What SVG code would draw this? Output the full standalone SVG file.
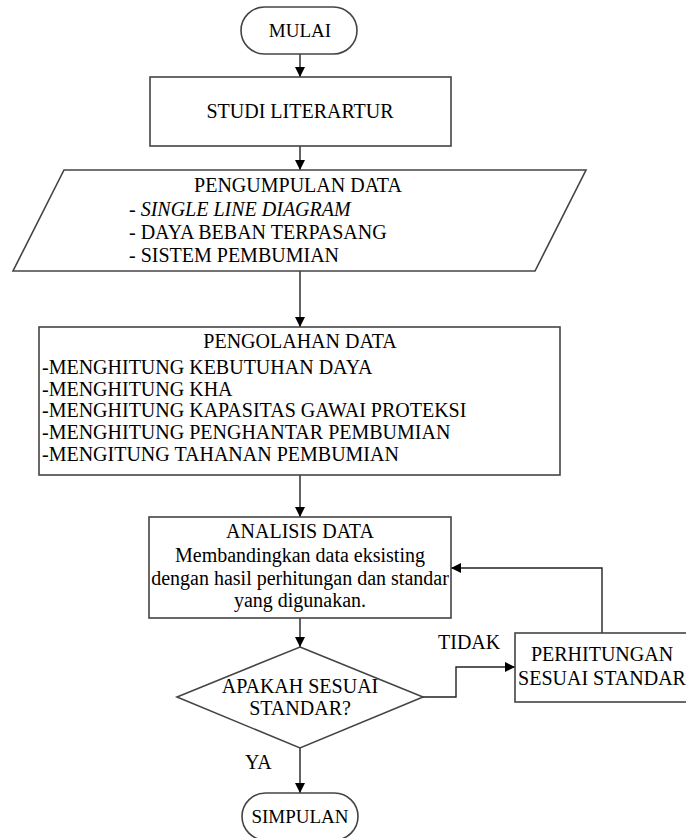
<svg xmlns="http://www.w3.org/2000/svg" width="686" height="838" viewBox="0 0 686 838">
<defs>
<marker id="ah" markerWidth="10" markerHeight="10" refX="10" refY="5" orient="auto" markerUnits="userSpaceOnUse">
<path d="M0,0 L10,5 L0,10 Z" fill="#000"/>
</marker>
</defs>
<style>
.s{fill:#fff;stroke:#444;stroke-width:1.6}
.t{font-family:"Liberation Serif","Times New Roman",serif;font-size:20px;fill:#000}
.m{font-size:19px}
.c{text-anchor:middle}
.e{fill:none;stroke:#222;stroke-width:1.4}
</style>
<rect width="686" height="838" fill="#fff"/>
<g id="connectors">
<path class="e" d="M300,54 V77" marker-end="url(#ah)"/>
<path class="e" d="M300,146 V170" marker-end="url(#ah)"/>
<path class="e" d="M300,271 V327" marker-end="url(#ah)"/>
<path class="e" d="M300,475 V517" marker-end="url(#ah)"/>
<path class="e" d="M300,618 V647" marker-end="url(#ah)"/>
<path class="e" d="M300,748 V793" marker-end="url(#ah)"/>
<path class="e" d="M423,697 H456 V667 H515" marker-end="url(#ah)"/>
<path class="e" d="M602,633 V568 H451" marker-end="url(#ah)"/>
<text class="t" x="438" y="649">TIDAK</text>
<text class="t" x="245" y="769">YA</text>
</g>
<g id="mulai">
<rect class="s" x="241" y="7" width="116" height="47" rx="23.5"/>
<text class="t m c" x="300" y="37">MULAI</text>
</g>
<g id="studi">
<rect class="s" x="150" y="77" width="301" height="69"/>
<text class="t c" x="300" y="118">STUDI LITERARTUR</text>
</g>
<g id="pengumpulan">
<polygon class="s" points="64,170 586,170 535,271 13,271"/>
<text class="t c" x="298" y="192">PENGUMPULAN DATA</text>
<text class="t" x="129" y="216">- <tspan font-style="italic">SINGLE LINE DIAGRAM</tspan></text>
<text class="t" x="129" y="239">- DAYA BEBAN TERPASANG</text>
<text class="t" x="129" y="262">- SISTEM PEMBUMIAN</text>
</g>
<g id="pengolahan">
<rect class="s" x="39" y="327" width="521" height="148"/>
<text class="t c" x="300" y="348">PENGOLAHAN DATA</text>
<text class="t" x="42" y="374">-MENGHITUNG KEBUTUHAN DAYA</text>
<text class="t" x="42" y="396">-MENGHITUNG KHA</text>
<text class="t" x="42" y="417">-MENGHITUNG KAPASITAS GAWAI PROTEKSI</text>
<text class="t" x="42" y="439">-MENGHITUNG PENGHANTAR PEMBUMIAN</text>
<text class="t" x="42" y="461">-MENGITUNG TAHANAN PEMBUMIAN</text>
</g>
<g id="analisis">
<rect class="s" x="149" y="517" width="302" height="101"/>
<text class="t c" x="300" y="538">ANALISIS DATA</text>
<text class="t c" x="300" y="562">Membandingkan data eksisting</text>
<text class="t c" x="300" y="585">dengan hasil perhitungan dan standar</text>
<text class="t c" x="300" y="607">yang digunakan.</text>
</g>
<g id="keputusan">
<polygon class="s" points="300,647 423,697 300,748 177,697"/>
<text class="t c" x="300" y="693">APAKAH SESUAI</text>
<text class="t c" x="300" y="715">STANDAR?</text>
</g>
<g id="perhitungan">
<rect class="s" x="515" y="633" width="174" height="69"/>
<text class="t c" x="602" y="661">PERHITUNGAN</text>
<text class="t c" x="602" y="685">SESUAI STANDAR</text>
</g>
<g id="simpulan">
<rect class="s" x="242" y="793" width="116" height="47" rx="23.5"/>
<text class="t m c" x="300" y="823">SIMPULAN</text>
</g>
</svg>
